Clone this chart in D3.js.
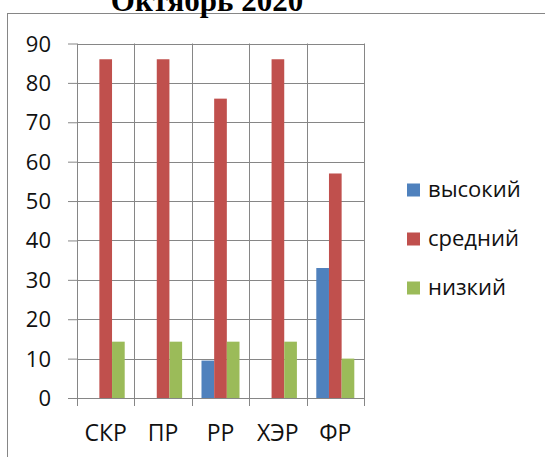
<!DOCTYPE html>
<html>
<head>
<meta charset="utf-8">
<script src="https://cdn.jsdelivr.net/npm/d3@7"></script>
<style>
  body { margin: 0; background: #fff; }
  text { font-family: "Open Sans", sans-serif; fill: #111; }
</style>
</head>
<body>
<script>
var categories = ["СКР", "ПР", "РР", "ХЭР", "ФР"];
var seriesNames = ["высокий", "средний", "низкий"];
var high = [0, 0, 9.5, 0, 33];
var mid = [86, 86, 76, 86, 57];
var low = [14.3, 14.3, 14.3, 14.3, 10];
var yTicks = [0, 10, 20, 30, 40, 50, 60, 70, 80, 90];
var colors = ["#4F81BD", "#C0504D", "#9BBB59"];

var seriesValues = [high, mid, low];
var data = categories.map(function(c, i) {
    return { cat: c, values: seriesNames.map(function(s, j) { return { key: s, value: seriesValues[j][i] }; }) };
});

var width = 545, height = 457;
var plot = {left: 77, right: 364, top: 43.5, bottom: 398};

var svg = d3.select("body")
    .append("svg")
    .attr("width", width)
    .attr("height", height);

// outer frame
svg.append("rect")
    .attr("x", 7.5)
    .attr("y", 13.5)
    .attr("width", 600)
    .attr("height", 500)
    .style("fill", "none")
    .style("stroke", "#868686");

// title (cut off at the top, as in the original)
svg.append("text")
    .attr("x", 207)
    .attr("y", 11)
    .style("text-anchor", "middle")
    .style("font-family", "'Liberation Serif', serif")
    .style("font-weight", "bold")
    .style("font-size", "31px")
    .style("fill", "#000")
    .text("Октябрь 2020");

var x0 = d3.scaleBand()
    .domain(categories)
    .range([plot.left, plot.right])
    .padding(0);

var x1 = d3.scaleBand()
    .domain(seriesNames)
    .range([0, x0.bandwidth()])
    .paddingInner(0)
    .paddingOuter(0.765);

var y = d3.scaleLinear()
    .domain([0, 90])
    .range([plot.bottom, plot.top]);

var color = d3.scaleOrdinal()
    .domain(seriesNames)
    .range(colors);

// left ticks
svg.append("g")
    .attr("transform", "translate(" + plot.left + ",0)")
    .call(d3.axisLeft(y).tickValues(yTicks).tickSize(9).tickFormat(""))
    .call(function(g) { g.select(".domain").remove(); })
    .call(function(g) { g.selectAll("line").attr("stroke", "#868686"); });

// horizontal gridlines
svg.append("g")
    .selectAll("line.grid")
    .data(yTicks)
    .enter().append("line")
    .attr("class", "grid")
    .attr("x1", plot.left)
    .attr("x2", plot.right)
    .attr("y1", function(d) { return Math.round(y(d)) + 0.5; })
    .attr("y2", function(d) { return Math.round(y(d)) + 0.5; })
    .attr("stroke", "#868686");

// vertical gridlines at category boundaries, extending below as ticks
var bounds = categories.map(function(c) { return x0(c); }).concat([plot.right]);
svg.append("g")
    .selectAll("line.vgrid")
    .data(bounds)
    .enter().append("line")
    .attr("class", "vgrid")
    .attr("x1", function(d) { return Math.round(d) + 0.5; })
    .attr("x2", function(d) { return Math.round(d) + 0.5; })
    .attr("y1", y(90))
    .attr("y2", plot.bottom + 8)
    .attr("stroke", "#868686");

// y tick labels
svg.append("g")
    .selectAll("text.ylab")
    .data(yTicks)
    .enter().append("text")
    .attr("class", "ylab")
    .attr("x", 51)
    .attr("y", function(d) { return y(d) + 8; })
    .style("text-anchor", "end")
    .style("font-size", "22px")
    .text(function(d) { return d; });

// bars
svg.append("g")
    .selectAll("g")
    .data(data)
    .enter().append("g")
    .attr("transform", function(d) { return "translate(" + x0(d.cat) + ",0)"; })
    .selectAll("rect")
    .data(function(d) { return d.values; })
    .enter().append("rect")
    .attr("x", function(d) { return x1(d.key); })
    .attr("y", function(d) { return y(d.value); })
    .attr("width", x1.bandwidth())
    .attr("height", function(d) { return y(0) - y(d.value); })
    .style("fill", function(d) { return color(d.key); });

// category labels
svg.append("g")
    .selectAll("text.xlab")
    .data(categories)
    .enter().append("text")
    .attr("class", "xlab")
    .attr("x", function(d) { return x0(d) + x0.bandwidth() / 2; })
    .attr("y", 441)
    .style("text-anchor", "middle")
    .style("font-size", "23px")
    .text(function(d) { return d; });

// legend
var legend = svg.append("g")
    .selectAll("g")
    .data(seriesNames)
    .enter().append("g")
    .attr("transform", function(d, i) { return "translate(407," + (190 + i * 49) + ")"; });

legend.append("rect")
    .attr("x", 0)
    .attr("y", -6.5)
    .attr("width", 13)
    .attr("height", 13)
    .style("fill", function(d) { return color(d); });

legend.append("text")
    .attr("x", 21)
    .attr("y", 7)
    .style("font-size", "22px")
    .text(function(d) { return d; });
</script>
</body>
</html>
